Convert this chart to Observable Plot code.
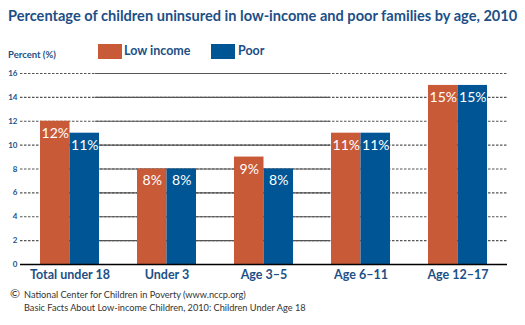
<!DOCTYPE html>
<html>
<head>
<meta charset="utf-8">
<script src="https://cdn.jsdelivr.net/npm/d3@7"></script>
<script src="https://cdn.jsdelivr.net/npm/@observablehq/plot@0.6"></script>
<style>
  body { margin: 0; background: #fff; }
  #wrap { position: relative; width: 525px; height: 325px; overflow: hidden; font-family: "Lato", sans-serif; }
  #title { position: absolute; left: 8px; top: 7px; font-size: 14.6px; font-weight: bold; color: #1d4f86; white-space: nowrap; }
  #ylab { position: absolute; left: 8px; top: 49px; font-size: 9.5px; font-weight: bold; color: #1d4f86; }
  .sw { position: absolute; top: 44px; width: 24px; height: 15px; }
  .lt { position: absolute; top: 43px; font-size: 12.5px; font-weight: bold; color: #1d4f86; }
  #cap { position: absolute; left: 24px; top: 289px; font-size: 9.2px; color: #333; line-height: 12.5px; font-family: "Lato", sans-serif; }
  #copy { position: absolute; left: 10px; top: 286px; font-size: 12px; color: #333; }
  #chart { position: absolute; left: 0; top: 0; }
</style>
</head>
<body>
<div id="wrap">
  <div id="chart"></div>
  <div id="title">Percentage of children uninsured in low-income and poor families by age, 2010</div>
  <div id="ylab">Percent (%)</div>
  <div class="sw" style="left:98px;background:#c95a37"></div>
  <div class="lt" style="left:124px">Low income</div>
  <div class="sw" style="left:211px;background:#005595"></div>
  <div class="lt" style="left:238px">Poor</div>
  <div id="copy">©</div>
  <div id="cap">National Center for Children in Poverty (www.nccp.org)<br>Basic Facts About Low-income Children, 2010: Children Under Age 18</div>
</div>
<script>
const categories = ["Total under 18", "Under 3", "Age 3–5", "Age 6–11", "Age 12–17"];
const series = ["Low income", "Poor"];
const lowIncome = [12, 8, 9, 11, 15];
const poor = [11, 8, 8, 11, 15];
const yTicks = [0, 2, 4, 6, 8, 10, 12, 14, 16];
const colors = ["#c95a37", "#005595"];

const data = [];
categories.forEach((c, i) => {
  data.push({cat: c, series: series[0], value: lowIncome[i]});
  data.push({cat: c, series: series[1], value: poor[i]});
});

const plot = Plot.plot({
  width: 525,
  height: 290,
  marginLeft: 20,
  marginRight: 18,
  marginTop: 73,
  marginBottom: 26,
  style: {fontFamily: "Lato, sans-serif", background: "transparent", overflow: "visible"},
  x: {domain: categories, paddingInner: 0.39, paddingOuter: 0.195, label: null, tickSize: 0},
  y: {domain: [0, 16], ticks: yTicks, label: null, tickSize: 0},
  color: {domain: series, range: colors},
  marks: [
    Plot.ruleY(yTicks.filter(d => d > 0), {stroke: "#555", strokeWidth: 1.2, strokeDasharray: "2.5,1.5"}),
    Plot.ruleY(yTicks.filter(d => d > 0), {stroke: "#555", strokeWidth: 1.2, insetLeft: 75, insetRight: 177}),
    Plot.barY(data.filter(d => d.series === series[0]), {x: "cat", y: "value", fill: "series", insetRight: 29.5}),
    Plot.barY(data.filter(d => d.series === series[1]), {x: "cat", y: "value", fill: "series", insetLeft: 29.5}),
    Plot.text(data.filter(d => d.series === series[0]), {x: "cat", y: "value", text: d => d.value + "%", fill: "white", dy: 12, dx: -14.75, fontSize: 14}),
    Plot.text(data.filter(d => d.series === series[1]), {x: "cat", y: "value", text: d => d.value + "%", fill: "white", dy: 12, dx: 14.75, fontSize: 14}),
    Plot.ruleY([0], {stroke: "#000", strokeWidth: 1.5}),
    Plot.axisY({ticks: yTicks, tickSize: 0, tickPadding: 3, fontSize: 8, fontWeight: "bold", fill: "#1d4f86", anchor: "left"}),
    Plot.axisX({tickSize: 0, tickPadding: 6, fontSize: 12.5, fontWeight: "bold", fill: "#1d4f86", label: null})
  ]
});
document.getElementById("chart").appendChild(plot);
</script>
</body>
</html>
